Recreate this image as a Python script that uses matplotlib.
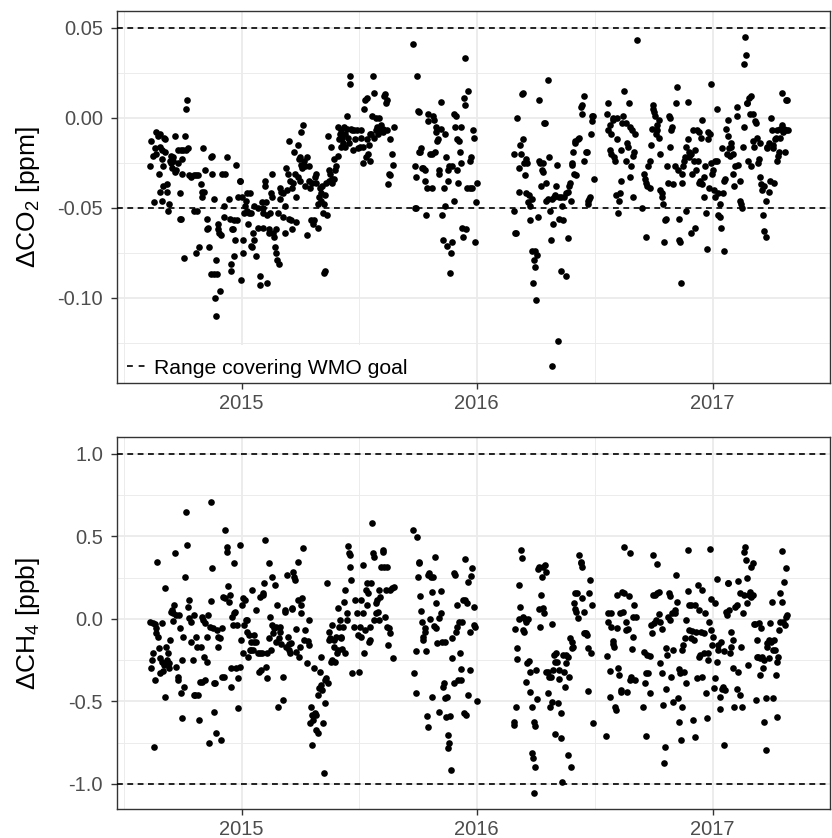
import numpy as np
import matplotlib
matplotlib.use("Agg")
import matplotlib.pyplot as plt
import matplotlib.dates as mdates
from matplotlib.lines import Line2D
from matplotlib.patches import Rectangle
from matplotlib.ticker import FormatStrFormatter

plt.rcParams['font.family'] = ['Liberation Sans', 'DejaVu Sans']
plt.rcParams['mathtext.fontset'] = 'custom'
plt.rcParams['mathtext.rm'] = 'Liberation Sans'
plt.rcParams['mathtext.it'] = 'Liberation Sans:italic'
plt.rcParams['axes.unicode_minus'] = False

# days are counted from 2014-01-01
# --- CO2 deviation [ppm] ---
co2_day_a = [
    225, 223, 228, 230, 232, 233, 236, 239, 239, 241,
    242, 243, 244, 237, 229, 238, 241, 243, 246, 247,
    249, 250, 251, 252, 254, 255, 256, 257, 258, 259,
    262, 262, 264, 266, 267, 269, 271, 272, 269, 271,
    273, 274, 276, 277, 279, 281, 279, 282, 283, 287,
    292, 294, 297, 292, 296, 295, 299, 302, 304, 303,
    306, 307, 309, 311, 312, 313, 314, 317, 319, 319,
    322, 317, 322, 324, 325, 326, 327, 329, 331, 328,
    330, 333, 335, 338, 338, 340, 343, 345, 347, 348,
    349, 350, 352, 353, 354, 355, 357, 358, 360, 362,
    363, 364, 365, 367, 368, 369, 370, 372, 373, 374,
    375, 377, 378, 379, 380, 382, 383, 384, 385, 388,
    390, 390, 393, 394, 397, 398, 399, 399, 401, 402,
    403, 404, 405, 407, 408, 409, 411, 412, 413, 414,
    415, 417, 418, 419, 420, 422, 423, 424, 425, 427,
    429, 430, 432, 433, 434, 435, 437, 438, 439, 440,
    442, 443, 444, 445, 447, 448, 449, 450, 452, 453,
    454, 455, 456, 457, 458, 459, 460, 462, 463, 464,
    466, 467, 469, 470, 471, 473, 474, 476, 478, 479,
    480, 481, 483, 484, 485, 486, 488, 489, 490, 491,
    493, 493, 494, 495, 496, 498, 499, 500, 501, 503,
    504, 505, 506, 508, 509, 510, 511, 514, 515, 516,
    518, 519, 520, 521, 523, 524, 525, 526, 528, 529,
    530, 531, 533, 534, 535, 536, 538, 539, 541, 544,
    546, 549, 550, 551, 553, 554, 555, 556, 558, 559,
    560, 561, 563, 564, 565, 566, 568, 569, 570, 571,
    573, 574, 575, 576, 578, 579, 581, 584, 585, 586,
    588, 589, 590, 591, 593, 594, 595, 596, 599, 600,
    602]
co2_val_a = [
    -0.013, -0.027, -0.021, -0.017, -0.020, -0.008, -0.010, -0.009, -0.016, -0.018,
    -0.023, -0.027, -0.011, -0.031, -0.047, -0.041, -0.046, -0.038, -0.012, -0.019,
    -0.037, -0.041, -0.052, -0.048, -0.024, -0.021, -0.025, -0.028, -0.022, -0.024,
    -0.010, -0.030, -0.029, -0.025, -0.018, -0.042, -0.018, -0.031, -0.056, -0.056,
    -0.023, -0.018, -0.078, -0.010, 0.005, 0.010, -0.018, -0.017, -0.032, -0.033,
    -0.032, -0.032, -0.032, -0.052, -0.052, -0.075, -0.072, -0.037, -0.041, -0.044,
    -0.017, -0.041, -0.029, -0.056, -0.062, -0.061, -0.072, -0.022, -0.021, -0.031,
    -0.045, -0.087, -0.087, -0.100, -0.110, -0.079, -0.087, -0.059, -0.096, -0.062,
    -0.064, -0.065, -0.031, -0.049, -0.055, -0.031, -0.022, -0.045, -0.056, -0.081,
    -0.085, -0.062, -0.062, -0.077, -0.057, -0.068, -0.026, -0.057, -0.044, -0.035,
    -0.035, -0.090, -0.044, -0.068, -0.075, -0.053, -0.049, -0.046, -0.042, -0.052,
    -0.059, -0.053, -0.042, -0.071, -0.053, -0.072, -0.064, -0.049, -0.068, -0.077,
    -0.050, -0.061, -0.088, -0.093, -0.047, -0.050, -0.053, -0.061, -0.035, -0.038,
    -0.047, -0.054, -0.092, -0.062, -0.064, -0.053, -0.042, -0.044, -0.031, -0.064,
    -0.066, -0.072, -0.062, -0.075, -0.079, -0.053, -0.081, -0.045, -0.039, -0.041,
    -0.055, -0.042, -0.049, -0.064, -0.028, -0.040, -0.031, -0.013, -0.056, -0.035,
    -0.057, -0.062, -0.039, -0.036, -0.019, -0.031, -0.058, -0.044, -0.033, -0.015,
    -0.023, -0.035, -0.022, -0.008, -0.026, -0.028, -0.004, -0.024, -0.038, -0.027,
    -0.065, -0.022, -0.027, -0.035, -0.039, -0.057, -0.036, -0.059, -0.057, -0.033,
    -0.036, -0.031, -0.048, -0.061, -0.044, -0.039, -0.042, -0.046, -0.038, -0.053,
    -0.048, -0.086, -0.085, -0.043, -0.036, -0.054, -0.010, -0.029, -0.035, -0.031,
    -0.016, -0.034, -0.036, -0.034, -0.023, -0.029, -0.027, -0.021, -0.005, -0.012,
    -0.009, -0.016, -0.007, -0.011, -0.014, -0.005, -0.016, -0.009, 0.001, -0.006,
    -0.011, -0.014, 0.019, 0.023, -0.006, -0.007, -0.018, -0.007, -0.012, -0.007,
    -0.017, -0.016, -0.011, -0.007, -0.016, -0.025, 0.005, 0.010, -0.022, -0.012,
    0.011, -0.020, -0.015, -0.009, -0.024, -0.009, 0.001, 0.023, 0.014, -0.011,
    0.000, -0.007, -0.005, -0.009, 0.000, -0.007, -0.004, -0.006, -0.008, 0.012,
    0.013, 0.008, 0.010, -0.007, -0.037, -0.031, -0.012, -0.032, -0.020, -0.026,
    -0.005]

co2_day_b = [
    631, 637, 634, 635, 634, 636, 639, 640, 641, 642,
    644, 645, 647, 649, 650, 651, 652, 654, 655, 657,
    660, 661, 662, 664, 665, 666, 667, 669, 670, 671,
    672, 674, 675, 676, 677, 679, 680, 681, 682, 684,
    685, 686, 687, 689, 690, 691, 692, 694, 695, 696,
    697, 699, 700, 701, 702, 704, 705, 706, 707, 709,
    710, 711, 712, 714, 715, 717, 719, 720, 721, 722,
    724, 726, 727, 729, 730]
co2_val_b = [
    0.041, 0.023, -0.027, -0.033, -0.050, -0.050, 0.004, 0.003, -0.019, -0.019,
    -0.017, -0.028, -0.028, -0.035, -0.029, -0.054, -0.039, 0.002, -0.002, -0.020,
    -0.039, -0.020, 0.001, -0.001, -0.019, -0.008, -0.005, -0.013, -0.012, -0.029,
    -0.031, 0.009, -0.006, -0.054, -0.068, -0.039, -0.009, -0.049, -0.022, -0.071,
    -0.029, -0.035, -0.027, -0.086, -0.075, -0.069, -0.027, 0.002, -0.046, -0.005,
    0.001, -0.029, -0.012, -0.036, -0.013, -0.019, -0.025, -0.005, -0.061, -0.066,
    0.011, 0.007, 0.033, -0.062, -0.039, 0.015, -0.024, -0.039, -0.022, -0.039,
    -0.007, -0.011, -0.069, -0.047, -0.036]

co2_day_c = [
    787, 788, 790, 791, 793, 795, 796, 797, 798, 800,
    801, 802, 803, 805, 806, 807, 808, 810, 811, 812,
    813, 815, 816, 817, 818, 820, 821, 822, 823, 825,
    826, 827, 828, 830, 831, 832, 833, 835, 836, 837,
    838, 840, 841, 842, 843, 845, 846, 847, 848, 850,
    851, 853, 855, 856, 857, 858, 860, 861, 862, 863,
    866, 868, 869, 871, 872, 873, 874, 876, 877, 878,
    879, 881, 882, 883, 884, 887, 889, 892, 893, 894,
    896, 897, 899, 901, 902, 903, 904, 906, 907, 908,
    909, 911, 912]
co2_val_c = [
    -0.020, -0.052, -0.064, -0.064, 0.000, -0.028, -0.041, -0.015, -0.020, 0.013,
    0.014, -0.012, -0.025, -0.032, -0.023, -0.042, -0.025, -0.047, -0.043, -0.049,
    -0.057, -0.045, -0.074, -0.092, -0.079, -0.083, -0.074, -0.101, -0.076, -0.055,
    -0.024, 0.010, -0.025, -0.038, -0.029, -0.030, -0.025, -0.003, -0.003, -0.036,
    -0.046, -0.045, 0.021, -0.022, -0.052, -0.068, -0.045, -0.138, -0.059, -0.044,
    -0.043, -0.038, -0.026, -0.124, -0.044, -0.056, -0.044, -0.085, -0.049, -0.057,
    -0.044, -0.088, -0.042, -0.067, -0.041, -0.038, -0.036, -0.046, -0.025, -0.026,
    -0.019, -0.031, -0.014, -0.013, -0.032, -0.012, -0.011, 0.006, 0.002, 0.007,
    -0.024, 0.012, -0.019, -0.019, -0.048, -0.046, -0.045, -0.044, -0.009, -0.002,
    0.001, 0.001, -0.034]

co2_day_d = [
    932, 933, 934, 936, 937, 938, 939, 941, 942, 943,
    944, 946, 947, 948, 949, 951, 952, 953, 954, 956,
    957, 959, 961, 962, 963, 964, 966, 967, 968, 969,
    971, 972, 973, 974, 976, 978, 987, 989, 991, 992,
    993, 994, 996, 998, 999, 1000, 1002, 1003, 1004, 1005,
    1007, 1008, 1009, 1010, 1012, 1013, 1014, 1015, 1017, 1018,
    1019, 1020, 1022, 1023, 1025, 1027, 1028, 1029, 1030, 1032,
    1033, 1035, 1038, 1039, 1040, 1042, 1043, 1044, 1045, 1047,
    1048, 1049, 1050, 1052, 1053, 1054, 1055, 1057, 1058, 1059,
    1060, 1062, 1063, 1064, 1065, 1067, 1068, 1069, 1070, 1072,
    1073, 1074, 1075, 1077, 1078, 1079, 1080, 1082, 1083, 1084,
    1085, 1087, 1088, 1089, 1090, 1092, 1093, 1094, 1095, 1097,
    1098, 1099, 1100, 1102, 1103, 1104, 1105, 1107, 1108, 1109,
    1110, 1112, 1113, 1114, 1115, 1117, 1118, 1119, 1120, 1122,
    1123, 1124, 1125, 1127, 1128, 1129, 1131, 1133, 1134, 1136,
    1138, 1139, 1140, 1141, 1143, 1144, 1145, 1146, 1148, 1149,
    1150, 1151, 1153, 1154, 1155, 1156, 1158, 1159, 1160, 1161,
    1163, 1164, 1166, 1168, 1169, 1170, 1171, 1173, 1174, 1175,
    1176, 1178, 1179, 1180, 1181, 1183, 1184, 1185, 1186, 1188,
    1189, 1190, 1191, 1193, 1194, 1195, 1196, 1198, 1199, 1200,
    1201, 1203, 1204, 1205, 1206, 1208, 1209, 1210, 1211, 1213]
co2_val_d = [
    0.002, 0.008, -0.007, -0.018, -0.004, -0.020, -0.009, 0.000, -0.001, -0.022,
    -0.024, -0.043, 0.000, -0.012, -0.053, -0.046, -0.042, -0.018, -0.035, -0.003,
    0.001, 0.015, -0.003, -0.024, -0.014, -0.016, 0.008, -0.005, -0.033, -0.027,
    -0.007, -0.044, -0.021, -0.019, -0.009, 0.043, -0.050, -0.031, -0.034, -0.036,
    -0.066, -0.038, -0.027, -0.024, -0.039, -0.015, -0.006, 0.007, 0.005, 0.003,
    0.001, -0.009, -0.007, -0.004, -0.011, -0.001, -0.020, -0.040, -0.042, -0.044,
    -0.048, -0.069, -0.057, -0.056, -0.027, -0.036, 0.001, 0.000, -0.016, -0.007,
    -0.005, -0.037, -0.027, 0.008, 0.017, -0.029, -0.068, -0.056, -0.069, -0.092,
    -0.031, -0.036, -0.027, -0.024, -0.022, -0.052, -0.016, -0.012, 0.009, -0.019,
    -0.022, -0.020, -0.064, -0.031, -0.007, -0.024, -0.061, -0.018, -0.029, -0.007,
    -0.024, -0.036, -0.008, -0.035, -0.011, -0.001, -0.037, -0.033, -0.044, -0.027,
    -0.053, -0.073, -0.008, -0.012, -0.039, -0.009, 0.019, -0.025, -0.031, -0.029,
    -0.040, -0.024, -0.044, 0.005, -0.024, -0.054, -0.042, -0.048, -0.055, -0.061,
    -0.017, -0.042, -0.035, -0.074, -0.034, -0.006, -0.020, -0.010, -0.001, -0.017,
    -0.021, -0.014, -0.016, -0.031, -0.020, -0.038, -0.027, 0.006, 0.001, -0.026,
    -0.035, -0.046, -0.048, -0.050, -0.016, -0.005, 0.030, 0.045, 0.035, 0.008,
    0.008, -0.024, 0.011, 0.002, 0.012, -0.027, 0.002, -0.013, -0.016, -0.002,
    -0.003, -0.011, -0.025, -0.023, -0.014, -0.033, -0.037, -0.040, -0.054, -0.038,
    -0.063, -0.066, -0.046, -0.017, -0.016, -0.014, -0.041, -0.035, 0.000, -0.007,
    -0.015, -0.017, -0.036, -0.012, -0.011, -0.007, -0.024, -0.021, -0.019, -0.011,
    -0.006, 0.014, -0.004, -0.008, -0.006, -0.019, 0.010, -0.007, 0.010, -0.007]

# --- CH4 deviation [ppb] ---
ch4_day_a = [
    223, 224, 226, 227, 228, 229, 230, 231, 232, 233,
    234, 236, 237, 238, 239, 241, 242, 243, 244, 246,
    247, 248, 249, 251, 252, 253, 254, 256, 257, 258,
    259, 261, 262, 263, 264, 266, 267, 268, 269, 271,
    272, 273, 274, 276, 278, 279, 281, 282, 283, 284,
    286, 287, 289, 291, 292, 293, 294, 296, 297, 299,
    301, 302, 303, 304, 306, 307, 308, 309, 311, 312,
    313, 314, 316, 317, 318, 319, 321, 322, 323, 324,
    326, 327, 328, 329, 331, 333, 334, 335, 337, 338,
    339, 340, 342, 343, 344, 345, 347, 348, 349, 350,
    352, 353, 354, 355, 357, 358, 359, 360, 362, 363,
    364, 365, 367, 368, 369, 370, 372, 373, 374, 375,
    377, 378, 379, 380, 382, 383, 384, 385, 387, 388,
    390, 392, 393, 394, 395, 397, 398, 399, 400, 402,
    403, 404, 405, 407, 408, 409, 410, 412, 413, 414,
    415, 417, 418, 419, 420, 422, 423, 424, 425, 427,
    429, 430, 432, 433, 434, 435, 437, 438, 439, 440,
    442, 443, 444, 445, 447, 448, 449, 450, 452, 453,
    454, 455, 457, 458, 459, 460, 462, 463, 466, 468,
    469, 470, 471, 473, 474, 475, 476, 478, 479, 480,
    481, 483, 484, 485, 486, 488, 489, 490, 491, 493,
    494, 495, 496, 498, 499, 500, 501, 503, 504, 505,
    506, 508, 509, 510, 511, 513, 514, 515, 516, 518,
    519, 520, 521, 523, 524, 525, 526, 528, 529, 530,
    531, 533, 534, 535, 536, 539, 541, 544, 546, 548,
    549, 550, 551, 553, 554, 555, 556, 558, 559, 560,
    561, 563, 564, 565, 566, 568, 569, 570, 571, 573,
    574, 575, 576, 578, 579, 580, 581, 584, 585, 586,
    588, 589, 590, 591, 593, 594, 595, 596, 599, 600,
    602]
ch4_val_a = [
    -0.016, -0.299, -0.248, -0.026, -0.204, -0.779, -0.030, -0.370, -0.057, -0.087,
    0.343, -0.107, -0.178, -0.329, -0.238, -0.259, -0.022, -0.313, -0.279, 0.186,
    -0.471, -0.168, -0.248, -0.208, -0.269, -0.299, -0.127, 0.044, 0.055, 0.034,
    -0.012, 0.085, 0.402, 0.024, -0.289, -0.349, -0.370, 0.024, -0.057, -0.450,
    -0.602, -0.248, -0.107, -0.410, 0.257, 0.650, 0.448, 0.075, 0.004, 0.115,
    -0.137, -0.016, -0.248, -0.461, 0.024, -0.461, -0.107, -0.168, -0.461, -0.612,
    -0.380, -0.168, -0.380, 0.014, -0.006, -0.228, -0.026, -0.370, -0.259, -0.107,
    0.024, -0.753, -0.046, 0.111, 0.711, 0.307, -0.057, -0.390, -0.562, -0.390,
    -0.693, -0.067, -0.107, -0.168, -0.117, -0.733, -0.057, -0.349, 0.135, -0.349,
    0.125, 0.539, 0.438, 0.408, 0.200, 0.105, 0.145, -0.410, -0.299, 0.014,
    -0.036, 0.341, 0.034, 0.044, -0.299, -0.036, -0.360, -0.541, -0.289, 0.448,
    -0.127, 0.085, 0.125, -0.208, -0.036, 0.115, -0.006, -0.077, -0.006, -0.228,
    -0.097, -0.188, -0.137, -0.188, 0.176, -0.188, -0.097, -0.137, 0.055, -0.137,
    -0.208, -0.319, 0.135, -0.208, -0.309, -0.208, 0.145, 0.156, 0.216, 0.479,
    -0.289, -0.208, -0.360, -0.117, 0.341, 0.014, -0.188, 0.257, -0.036, -0.087,
    -0.057, 0.206, -0.137, -0.046, 0.085, -0.531, -0.117, -0.077, -0.046, -0.152,
    -0.349, -0.491, 0.044, 0.055, -0.168, 0.267, -0.107, -0.188, -0.152, -0.208,
    -0.147, 0.065, 0.059, 0.287, 0.257, 0.236, -0.198, -0.063, 0.347, 0.115,
    -0.228, -0.168, 0.085, 0.034, 0.125, 0.428, -0.127, -0.067, -0.269, -0.131,
    -0.158, -0.006, -0.632, -0.531, -0.764, -0.582, -0.612, -0.299, -0.572, -0.673,
    -0.582, -0.693, -0.461, -0.420, -0.319, -0.400, -0.228, -0.430, -0.632, -0.935,
    -0.370, -0.511, -0.360, 0.220, -0.390, -0.077, -0.127, -0.117, -0.259, -0.248,
    -0.036, -0.127, -0.168, -0.259, -0.107, -0.208, 0.065, -0.188, -0.046, -0.006,
    -0.117, -0.107, -0.184, -0.046, 0.105, -0.208, 0.176, 0.034, -0.006, 0.444,
    0.398, 0.388, 0.317, 0.236, -0.329, -0.046, 0.115, 0.034, -0.097, -0.319,
    -0.046, -0.107, 0.115, 0.034, 0.327, -0.208, -0.067, 0.176, 0.085, 0.216,
    0.156, -0.137, -0.046, -0.127, 0.216, 0.580, 0.398, 0.378, -0.006, 0.095,
    0.034, 0.115, 0.044, 0.176, -0.006, 0.135, 0.317, 0.408, 0.418, 0.317,
    0.014, 0.176, 0.317, -0.046, -0.158, -0.057, 0.176, -0.087, 0.186, -0.238,
    0.196]

ch4_day_b = [
    631, 633, 635, 635, 637, 639, 640, 641, 642, 644,
    645, 646, 647, 649, 650, 651, 652, 654, 655, 656,
    657, 659, 660, 661, 662, 664, 665, 666, 667, 669,
    671, 672, 674, 675, 676, 677, 679, 680, 681, 682,
    684, 685, 686, 687, 689, 690, 691, 692, 694, 695,
    696, 697, 699, 700, 701, 702, 704, 705, 706, 707,
    709, 710, 711, 712, 714, 715, 716, 717, 719, 720,
    721, 722, 725, 726, 727, 730]
ch4_val_b = [
    0.539, -0.325, -0.446, -0.192, 0.495, 0.257, 0.347, 0.337, 0.139, 0.051,
    -0.020, -0.107, -0.127, -0.057, -0.077, -0.192, -0.588, 0.267, -0.652, 0.277,
    -0.002, 0.257, 0.166, -0.471, 0.257, -0.042, 0.378, -0.057, 0.095, -0.147,
    -0.562, 0.004, 0.172, 0.038, -0.137, -0.410, -0.390, -0.137, -0.481, -0.592,
    -0.471, -0.703, -0.784, -0.753, -0.588, -0.915, -0.117, -0.238, 0.277, -0.390,
    0.267, -0.077, 0.083, -0.046, -0.370, -0.016, -0.208, -0.370, -0.305, -0.016,
    0.115, -0.572, 0.115, 0.362, -0.582, 0.095, 0.226, -0.461, -0.077, -0.309,
    0.263, 0.307, 0.075, -0.036, -0.046, -0.495]

ch4_day_c = [
    787, 788, 790, 791, 792, 793, 795, 796, 797, 798,
    800, 801, 802, 803, 805, 806, 807, 808, 810, 811,
    812, 813, 815, 816, 817, 818, 819, 820, 821, 822,
    823, 825, 826, 827, 828, 830, 831, 832, 833, 835,
    836, 837, 838, 840, 841, 842, 843, 845, 846, 847,
    848, 850, 851, 852, 853, 855, 856, 857, 858, 860,
    861, 862, 863, 866, 867, 868, 869, 871, 872, 873,
    874, 876, 877, 878, 879, 881, 882, 883, 884, 886,
    887, 889, 891, 892, 893, 894, 896, 897, 898, 899,
    901, 902, 903, 904, 906, 907, 909, 911]
ch4_val_c = [
    -0.642, -0.622, -0.063, -0.531, -0.174, -0.242, 0.206, 0.000, 0.071, 0.418,
    0.368, 0.010, -0.067, -0.077, -0.002, -0.016, -0.380, -0.269, -0.002, -0.253,
    -0.319, -0.440, -0.531, -0.814, -0.844, -1.052, -0.622, -0.648, -0.899, -0.309,
    -0.487, 0.301, 0.059, 0.317, -0.046, 0.145, 0.257, 0.065, 0.317, 0.034,
    0.327, 0.287, -0.319, -0.446, -0.319, -0.349, -0.531, -0.349, -0.501, -0.030,
    -0.309, -0.218, -0.697, -0.259, -0.208, -0.259, -0.507, -0.366, -0.309, -0.723,
    -0.572, -0.986, -0.218, -0.319, -0.410, -0.269, -0.218, -0.824, -0.228, -0.349,
    -0.117, -0.899, -0.137, -0.178, -0.168, 0.099, 0.059, 0.160, 0.044, 0.156,
    0.004, 0.388, 0.337, 0.347, 0.317, 0.125, 0.044, -0.087, -0.087, -0.083,
    -0.097, -0.434, -0.178, 0.156, 0.236, -0.208, 0.085, -0.632]

ch4_day_d = [
    931, 932, 933, 934, 936, 937, 938, 939, 941, 942,
    943, 944, 946, 947, 948, 949, 951, 952, 953, 954,
    956, 957, 958, 959, 961, 962, 963, 964, 966, 967,
    968, 969, 971, 972, 973, 974, 976, 977, 988, 989,
    991, 992, 993, 994, 996, 998, 999, 1000, 1002, 1003,
    1004, 1005, 1007, 1008, 1009, 1010, 1012, 1013, 1014, 1015,
    1017, 1018, 1019, 1020, 1022, 1023, 1024, 1025, 1027, 1028,
    1029, 1030, 1032, 1033, 1034, 1035, 1037, 1038, 1039, 1040,
    1042, 1043, 1044, 1045, 1047, 1048, 1049, 1050, 1052, 1053,
    1054, 1055, 1057, 1058, 1059, 1060, 1062, 1063, 1064, 1065,
    1067, 1068, 1069, 1070, 1072, 1073, 1074, 1075, 1077, 1078,
    1079, 1080, 1082, 1083, 1084, 1085, 1087, 1088, 1089, 1090,
    1092, 1093, 1094, 1095, 1097, 1098, 1099, 1100, 1102, 1103,
    1104, 1105, 1107, 1108, 1109, 1110, 1112, 1113, 1114, 1115,
    1117, 1118, 1119, 1120, 1122, 1123, 1124, 1125, 1127, 1128,
    1129, 1131, 1133, 1134, 1135, 1136, 1138, 1139, 1140, 1141,
    1143, 1144, 1145, 1146, 1148, 1149, 1150, 1151, 1153, 1154,
    1155, 1156, 1158, 1159, 1160, 1161, 1163, 1164, 1165, 1166,
    1168, 1169, 1170, 1171, 1173, 1174, 1175, 1176, 1178, 1179,
    1180, 1181, 1183, 1184, 1185, 1186, 1188, 1189, 1190, 1191,
    1193, 1194, 1195, 1196, 1198, 1199, 1200, 1201, 1203, 1204,
    1205, 1206, 1208, 1209, 1210, 1211]
ch4_val_d = [
    -0.709, -0.224, -0.016, 0.034, -0.471, -0.313, 0.034, -0.046, -0.131, -0.152,
    -0.168, -0.531, -0.551, 0.145, -0.057, -0.299, -0.339, 0.034, -0.440, -0.430,
    0.166, 0.044, 0.438, 0.156, -0.067, -0.016, -0.440, -0.063, 0.139, 0.398,
    -0.370, -0.349, -0.184, 0.014, -0.107, 0.085, -0.370, 0.014, -0.531, -0.198,
    -0.390, -0.329, -0.709, -0.218, -0.329, -0.450, -0.224, -0.036, -0.087, 0.145,
    0.388, -0.026, 0.145, -0.006, 0.333, 0.156, 0.166, 0.030, -0.016, -0.265,
    -0.063, -0.329, -0.521, -0.875, -0.774, -0.426, -0.178, -0.218, 0.014, 0.156,
    -0.006, 0.139, -0.349, 0.034, -0.501, -0.188, 0.034, 0.055, 0.267, 0.105,
    -0.481, -0.622, -0.305, -0.329, -0.733, -0.531, -0.188, -0.158, -0.319, -0.117,
    -0.386, -0.006, 0.170, 0.418, 0.085, -0.067, -0.117, 0.085, -0.071, -0.612,
    -0.127, -0.717, 0.085, -0.077, -0.360, 0.206, -0.228, 0.055, -0.218, -0.077,
    0.176, -0.349, -0.208, -0.087, 0.034, -0.450, -0.602, -0.208, -0.248, -0.016,
    0.424, 0.119, -0.067, -0.158, -0.107, -0.420, -0.360, 0.095, 0.240, -0.259,
    -0.188, -0.158, -0.471, -0.547, -0.137, -0.426, -0.410, -0.192, -0.764, -0.430,
    0.044, 0.024, 0.216, 0.220, 0.055, -0.208, -0.077, -0.168, -0.127, -0.299,
    -0.531, 0.075, 0.085, -0.426, 0.230, -0.319, 0.156, -0.461, -0.168, -0.531,
    0.034, 0.145, 0.408, 0.438, 0.358, 0.246, 0.095, -0.279, 0.145, 0.166,
    0.317, 0.135, 0.145, 0.337, -0.030, -0.030, -0.491, -0.228, -0.127, -0.228,
    -0.026, -0.238, -0.339, -0.057, -0.228, -0.299, -0.248, -0.622, -0.794, -0.481,
    -0.168, -0.147, -0.127, -0.238, -0.026, -0.137, 0.105, -0.188, -0.481, -0.127,
    -0.188, -0.339, -0.592, -0.259, -0.228, -0.067, -0.016, 0.156, 0.414, 0.105,
    -0.016, 0.226, -0.036, 0.014, 0.307, 0.024]

co2_goal = 0.05
ch4_goal = 1.0
legend_label = 'Range covering WMO goal'

t0 = mdates.date2num(np.datetime64('2014-01-01'))
year_ticks = [mdates.date2num(np.datetime64(f'{y}-01-01')) for y in (2015, 2016, 2017)]
mid_ticks = [mdates.date2num(np.datetime64(f'{y}-07-02')) for y in (2014, 2015, 2016, 2017)]

co2_x = t0 + np.concatenate([co2_day_a, co2_day_b, co2_day_c, co2_day_d]).astype(float)
co2_y = np.concatenate([co2_val_a, co2_val_b, co2_val_c, co2_val_d])
ch4_x = t0 + np.concatenate([ch4_day_a, ch4_day_b, ch4_day_c, ch4_day_d]).astype(float)
ch4_y = np.concatenate([ch4_val_a, ch4_val_b, ch4_val_c, ch4_val_d])

dash = (0, (3.5, 2.7))


def panel(ax, x, y, goal, ylim, yticks, yminor, fmt, ylabel):
    ax.scatter(x, y, s=23, c='black', linewidths=0, zorder=1)
    for g in (goal, -goal):
        ax.axhline(g, color='black', lw=1.2, ls=dash, zorder=3)
    ax.set_xlim(t0 + 171.4, t0 + 1249.7)
    ax.set_ylim(*ylim)
    ax.set_xticks(year_ticks)
    ax.set_xticklabels(['2015', '2016', '2017'])
    ax.set_xticks(mid_ticks, minor=True)
    ax.set_yticks(yticks)
    ax.set_yticks(yminor, minor=True)
    ax.yaxis.set_major_formatter(FormatStrFormatter(fmt))
    ax.set_axisbelow(True)
    ax.grid(True, which='major', color='#EBEBEB', lw=1.3)
    ax.grid(True, which='minor', color='#EBEBEB', lw=0.65)
    ax.tick_params(which='major', length=4.3, width=1.0, color='#333333',
                   labelsize=14.5, labelcolor='#4D4D4D')
    ax.tick_params(axis='x', which='major', pad=3.5)
    ax.tick_params(axis='y', which='major', pad=5.5)
    ax.tick_params(which='minor', length=0)
    for s in ax.spines.values():
        s.set_color('#333333')
        s.set_linewidth(1.0)
    ax.set_ylabel(ylabel, fontsize=19, color='black')
    ax.yaxis.set_label_coords(-0.105, 0.5)


fig = plt.figure(figsize=(8.32, 8.38), dpi=100)
ax1 = fig.add_axes([0.1403, 0.5430, 0.8573, 0.4439])
ax2 = fig.add_axes([0.1403, 0.0346, 0.8573, 0.4436])

panel(ax1, co2_x, co2_y, co2_goal, (-0.1474, 0.0594),
      [-0.10, -0.05, 0.00, 0.05], [-0.125, -0.075, -0.025, 0.025],
      '%.2f', r'$\Delta\mathrm{CO}_2$ [ppm]')
panel(ax2, ch4_x, ch4_y, ch4_goal, (-1.152, 1.101),
      [-1.0, -0.5, 0.0, 0.5, 1.0], [-0.75, -0.25, 0.25, 0.75],
      '%.1f', r'$\Delta\mathrm{CH}_4$ [ppb]')

# white legend background inside the lower left corner of the top panel
ax1.add_patch(Rectangle((0.0116, 0.0), 0.403, 0.102, transform=ax1.transAxes,
                        facecolor='white', edgecolor='none', zorder=0.8))
key = Line2D([], [], color='black', lw=1.2, ls=(0, (3.5, 3.5)))
leg = ax1.legend([key], [legend_label], loc='center left',
                 bbox_to_anchor=(0.0144, 0.040), borderaxespad=0,
                 borderpad=0, handlelength=1.0, handletextpad=0.3,
                 fontsize=15.2, frameon=False)

fig.savefig('out.png', dpi=100)
